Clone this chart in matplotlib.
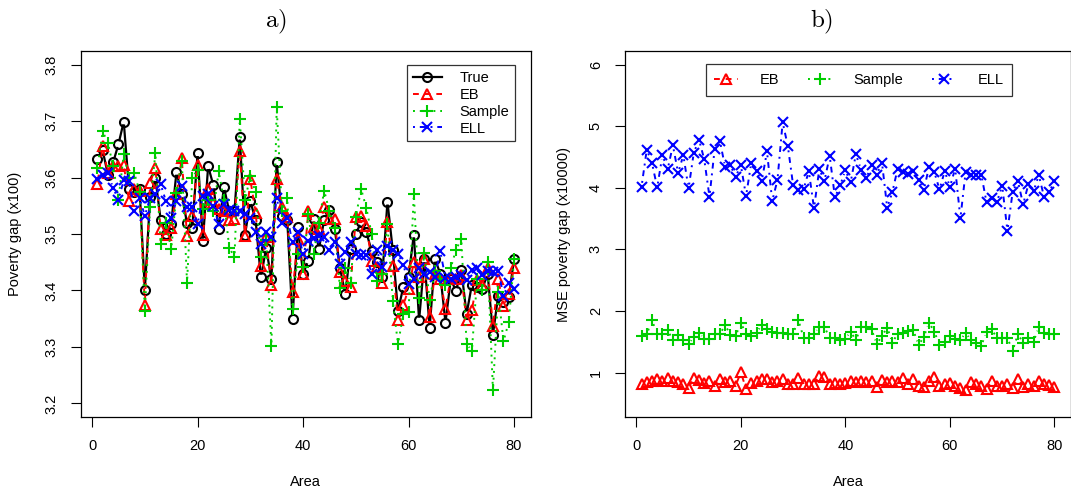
import numpy as np
import matplotlib.pyplot as plt

plt.rcParams['font.family'] = ['Liberation Sans', 'DejaVu Sans']
plt.rcParams['mathtext.fontset'] = 'cm'

area = np.arange(1, 81)

# panel a) poverty gap (x100)
true_gap = [3.633, 3.648, 3.605, 3.627, 3.659, 3.699, 3.580, 3.575, 3.580, 3.401,
            3.565, 3.599, 3.525, 3.500, 3.518, 3.610, 3.570, 3.519, 3.510, 3.643,
            3.487, 3.620, 3.586, 3.509, 3.583, 3.540, 3.541, 3.672, 3.499, 3.558,
            3.525, 3.423, 3.475, 3.420, 3.627, 3.532, 3.525, 3.350, 3.512, 3.430,
            3.453, 3.527, 3.473, 3.525, 3.543, 3.509, 3.440, 3.394, 3.473, 3.500,
            3.521, 3.503, 3.470, 3.450, 3.423, 3.557, 3.472, 3.364, 3.406, 3.424,
            3.499, 3.347, 3.455, 3.334, 3.456, 3.430, 3.343, 3.420, 3.399, 3.437,
            3.358, 3.410, 3.406, 3.403, 3.430, 3.322, 3.391, 3.380, 3.388, 3.455]
eb_gap = [3.588, 3.655, 3.608, 3.620, 3.620, 3.623, 3.559, 3.580, 3.576, 3.375,
          3.591, 3.617, 3.508, 3.499, 3.511, 3.570, 3.634, 3.496, 3.532, 3.623,
          3.499, 3.580, 3.555, 3.545, 3.541, 3.524, 3.527, 3.647, 3.497, 3.597,
          3.538, 3.444, 3.494, 3.410, 3.597, 3.547, 3.530, 3.397, 3.491, 3.430,
          3.541, 3.512, 3.509, 3.547, 3.527, 3.527, 3.432, 3.417, 3.406, 3.530,
          3.532, 3.515, 3.453, 3.441, 3.414, 3.521, 3.444, 3.347, 3.374, 3.403,
          3.450, 3.424, 3.456, 3.353, 3.430, 3.420, 3.368, 3.424, 3.420, 3.427,
          3.347, 3.365, 3.418, 3.410, 3.439, 3.338, 3.420, 3.372, 3.394, 3.440]
sample_gap = [3.617, 3.682, 3.661, 3.620, 3.561, 3.641, 3.600, 3.608, 3.575, 3.364,
              3.548, 3.644, 3.482, 3.520, 3.473, 3.573, 3.630, 3.414, 3.600, 3.614,
              3.544, 3.560, 3.540, 3.611, 3.560, 3.476, 3.459, 3.704, 3.560, 3.603,
              3.574, 3.460, 3.490, 3.301, 3.724, 3.540, 3.564, 3.367, 3.465, 3.441,
              3.535, 3.465, 3.520, 3.577, 3.540, 3.510, 3.404, 3.440, 3.414, 3.530,
              3.580, 3.546, 3.500, 3.417, 3.430, 3.518, 3.382, 3.305, 3.358, 3.362,
              3.571, 3.386, 3.466, 3.383, 3.435, 3.420, 3.410, 3.440, 3.472, 3.492,
              3.306, 3.293, 3.420, 3.400, 3.450, 3.223, 3.397, 3.310, 3.344, 3.455]
ell_gap = [3.598, 3.605, 3.608, 3.581, 3.561, 3.595, 3.594, 3.541, 3.564, 3.532,
           3.564, 3.570, 3.588, 3.558, 3.529, 3.559, 3.585, 3.547, 3.548, 3.517,
           3.568, 3.571, 3.550, 3.518, 3.553, 3.543, 3.541, 3.541, 3.535, 3.528,
           3.503, 3.482, 3.503, 3.494, 3.564, 3.519, 3.529, 3.485, 3.503, 3.465,
           3.488, 3.493, 3.497, 3.494, 3.471, 3.485, 3.447, 3.469, 3.485, 3.465,
           3.462, 3.463, 3.429, 3.471, 3.441, 3.479, 3.471, 3.465, 3.446, 3.412,
           3.421, 3.440, 3.430, 3.433, 3.424, 3.470, 3.422, 3.421, 3.424, 3.427,
           3.418, 3.437, 3.440, 3.427, 3.435, 3.433, 3.435, 3.391, 3.413, 3.403]

# panel b) MSE poverty gap (x10000)
eb_mse = [0.817, 0.855, 0.871, 0.898, 0.871, 0.914, 0.871, 0.844, 0.817, 0.752,
          0.914, 0.882, 0.828, 0.860, 0.790, 0.898, 0.844, 0.871, 0.790, 1.005,
          0.736, 0.828, 0.871, 0.898, 0.898, 0.844, 0.871, 0.898, 0.817, 0.817,
          0.914, 0.817, 0.817, 0.817, 0.951, 0.935, 0.817, 0.828, 0.817, 0.828,
          0.871, 0.844, 0.860, 0.844, 0.871, 0.774, 0.882, 0.844, 0.871, 0.844,
          0.914, 0.817, 0.898, 0.790, 0.763, 0.871, 0.935, 0.790, 0.817, 0.828,
          0.790, 0.752, 0.720, 0.844, 0.817, 0.790, 0.736, 0.871, 0.790, 0.790,
          0.817, 0.752, 0.898, 0.774, 0.817, 0.790, 0.871, 0.817, 0.806, 0.774]
sample_mse = [1.597, 1.624, 1.849, 1.624, 1.634, 1.688, 1.527, 1.613, 1.527, 1.462,
              1.580, 1.651, 1.543, 1.543, 1.624, 1.624, 1.774, 1.613, 1.597, 1.811,
              1.624, 1.597, 1.651, 1.774, 1.704, 1.667, 1.651, 1.651, 1.634, 1.634,
              1.855, 1.570, 1.570, 1.634, 1.742, 1.742, 1.559, 1.559, 1.530, 1.550,
              1.667, 1.527, 1.742, 1.742, 1.704, 1.462, 1.597, 1.731, 1.489, 1.634,
              1.651, 1.677, 1.688, 1.446, 1.580, 1.811, 1.667, 1.451, 1.505, 1.597,
              1.543, 1.527, 1.651, 1.527, 1.489, 1.435, 1.667, 1.704, 1.559, 1.559,
              1.559, 1.355, 1.624, 1.489, 1.559, 1.505, 1.742, 1.651, 1.634, 1.634]
ell_mse = [4.016, 4.618, 4.403, 4.005, 4.527, 4.301, 4.688, 4.242, 4.527, 3.989,
           4.570, 4.779, 4.462, 3.855, 4.634, 4.758, 4.333, 4.366, 4.177, 4.366,
           3.866, 4.409, 4.269, 4.108, 4.591, 3.785, 4.124, 5.064, 4.672, 4.043,
           3.962, 3.978, 4.269, 3.667, 4.301, 4.113, 4.516, 3.844, 4.040, 4.285,
           4.086, 4.543, 4.296, 4.151, 4.376, 4.215, 4.409, 3.677, 3.935, 4.312,
           4.258, 4.220, 4.269, 4.124, 3.962, 4.339, 4.258, 3.973, 4.269, 4.016,
           4.312, 3.505, 4.258, 4.215, 4.215, 4.215, 3.763, 3.839, 3.774, 4.032,
           3.301, 3.935, 4.108, 3.731, 4.054, 3.946, 4.204, 3.855, 3.935, 4.108]

RED = '#FF0000'
GREEN = '#00CD00'
BLUE = '#0000FF'
DASH = (0, (3, 3))
DOT = (0, (1, 2.5))
DOTDASH = (0, (1, 2.5, 3, 2.5))

fig = plt.figure(figsize=(10.71, 4.93), dpi=100)
ax1 = fig.add_axes([80.7 / 1071, 1 - 417 / 493, 450 / 1071, 366 / 493])
ax2 = fig.add_axes([625 / 1071, 1 - 417 / 493, 446 / 1071, 366 / 493])

ax1.set_xlim(-2.16, 83.16)
ax1.set_ylim(3.2 - 0.024, 3.8 + 0.024)
ax2.set_xlim(-2.16, 83.16)
ax2.set_ylim(0.5 - 0.22, 6 + 0.22)


def type_b(ax, x, y, color, ls, marker, ms, lw=1.4, gap=4.0, label=None):
    # like R type="b": line segments stop short of the points
    pts = ax.transData.transform(np.column_stack([x, y]))
    inv = ax.transData.inverted()
    for p, q in zip(pts[:-1], pts[1:]):
        d = q - p
        n = np.hypot(*d)
        if n <= 2 * gap:
            continue
        u = d / n
        a = inv.transform(p + u * gap)
        b = inv.transform(q - u * gap)
        ax.plot([a[0], b[0]], [a[1], b[1]], color=color, ls=ls, lw=lw)
    ax.plot(x, y, ls='none', marker=marker, ms=ms, mfc='none', mec=color, mew=1.5)
    # proxy for the legend
    ax.plot([], [], color=color, ls=ls, lw=lw, marker=marker, ms=ms,
            mfc='none', mec=color, mew=1.5, label=label)


type_b(ax1, area, true_gap, 'black', '-', 'o', 6.5, lw=1.6, label='True')
type_b(ax1, area, eb_gap, RED, DASH, '^', 7, label='EB')
type_b(ax1, area, sample_gap, GREEN, DOT, '+', 9, label='Sample')
type_b(ax1, area, ell_gap, BLUE, DOTDASH, 'x', 6.5, label='ELL')

type_b(ax2, area, eb_mse, RED, DASH, '^', 7, label='EB')
type_b(ax2, area, sample_mse, GREEN, DOT, '+', 9, label='Sample')
type_b(ax2, area, ell_mse, BLUE, DOTDASH, 'x', 6.5, label='ELL')

for ax in (ax1, ax2):
    ax.set_xticks([0, 20, 40, 60, 80])
    ax.tick_params(direction='out', length=7, width=0.8, labelsize=10.5, pad=9)
    ax.tick_params(axis='y', labelrotation=90)
    for s in ax.spines.values():
        s.set_linewidth(0.9)
    ax.set_xlabel('Area', fontsize=10.5)
    ax.xaxis.set_label_coords(0.5, -0.158)

ax1.set_yticks([3.2, 3.3, 3.4, 3.5, 3.6, 3.7, 3.8])
ax1.set_yticklabels(['3.2', '3.3', '3.4', '3.5', '3.6', '3.7', '3.8'], va='center')
ax2.set_yticks([1, 2, 3, 4, 5, 6])
ax2.set_yticklabels(['1', '2', '3', '4', '5', '6'], va='center')

ax1.set_ylabel('Poverty gap (x100)', fontsize=10.5)
ax1.yaxis.set_label_coords(-0.130, 0.5)
ax2.set_ylabel('MSE poverty gap (x10000)', fontsize=10.5)
ax2.yaxis.set_label_coords(-0.121, 0.5)

leg1 = ax1.legend(loc='upper right', bbox_to_anchor=(515 / 1071, 1 - 65 / 493),
                  bbox_transform=fig.transFigure, fontsize=10.5, frameon=True,
                  fancybox=False, edgecolor='black', handlelength=2.0,
                  handletextpad=1.2, labelspacing=0.2, borderpad=0.4,
                  borderaxespad=0)
leg1.get_frame().set_linewidth(0.9)

leg2 = ax2.legend(loc='upper center', bbox_to_anchor=(859 / 1071, 1 - 64 / 493),
                  bbox_transform=fig.transFigure, ncol=3, fontsize=10.5,
                  frameon=True, fancybox=False, edgecolor='black',
                  handlelength=1.6, handletextpad=1.5, columnspacing=2.0,
                  borderpad=0.6, borderaxespad=0)
leg2.get_frame().set_linewidth(0.9)

fig.text(276 / 1071, 1 - 22 / 493, r'$\mathrm{a)}$', ha='center', va='center', fontsize=18)
fig.text(822 / 1071, 1 - 22 / 493, r'$\mathrm{b)}$', ha='center', va='center', fontsize=18)

fig.savefig('out.png', dpi=100)
